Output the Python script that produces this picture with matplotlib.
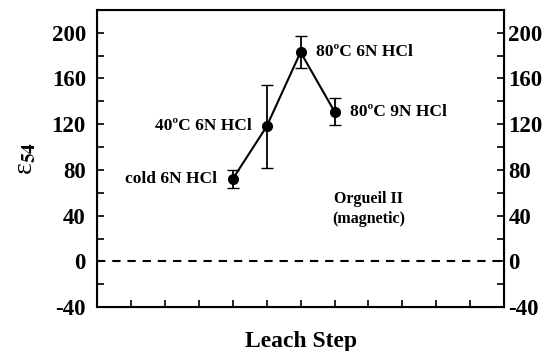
import matplotlib
matplotlib.use('Agg')
import matplotlib.pyplot as plt

# leach steps (x position) and epsilon 54 values
pasos = [4, 5, 6, 7]
eps54 = [72, 118, 183, 131]
erros = [8, 36, 14, 12]
rotulos = ['cold 6N HCl', '40\u00baC 6N HCl', '80\u00baC 6N HCl', '80\u00baC 9N HCl']
lado = ['left', 'left', 'right', 'right']

plt.rcParams['font.family'] = ['Liberation Serif', 'DejaVu Serif']
plt.rcParams['font.weight'] = 'bold'
plt.rcParams['axes.unicode_minus'] = False
plt.rcParams['mathtext.fontset'] = 'stix'

fig = plt.figure(figsize=(5.51, 3.51), dpi=100)
ax = fig.add_axes([0.176, 0.125, 0.739, 0.847])

ax.axhline(0, color='black', linestyle=(0, (4, 3.3)), linewidth=1.5)
ax.errorbar(pasos, eps54, yerr=erros, color='black', marker='o', markersize=7,
            linewidth=1.5, capsize=4, elinewidth=1.3)

for x, y, t, l in zip(pasos, eps54, rotulos, lado):
    if l == 'left':
        ax.text(x - 0.45, y, t, ha='right', va='center', fontsize=12.5)
    else:
        ax.text(x + 0.45, y, t, ha='left', va='center', fontsize=12.5)

ax.text(8.0, 46, 'Orgueil II\n(magnetic)', ha='center', va='center', fontsize=11.5,
        linespacing=1.3)

ax.set_xlim(0, 12)
ax.set_ylim(-40, 220)
ax.set_xticks(range(1, 12))
ax.set_xticklabels([])
ax.set_yticks(range(-40, 201, 40))
ax.set_yticks(range(-20, 220, 40), minor=True)
ax.tick_params(axis='both', which='both', direction='in', length=5, width=1.2,
               labelsize=16.5, right=True, pad=8)
ax.tick_params(axis='x', top=False)
for s in ax.spines.values():
    s.set_linewidth(1.5)

# right axis with the same scale
ax2 = ax.twinx()
ax2.set_ylim(ax.get_ylim())
ax2.set_yticks(range(-40, 201, 40))
ax2.set_yticks(range(-20, 220, 40), minor=True)
ax2.tick_params(axis='y', which='both', direction='in', length=5, width=1.2,
                labelsize=16.5, pad=3)

ax.set_xlabel('Leach Step', fontsize=17, fontweight='bold', labelpad=9.5)
ax.set_ylabel('\u03b5$_{54}$', fontsize=20, fontweight='normal', labelpad=10)

fig.savefig('out.png', dpi=100)
